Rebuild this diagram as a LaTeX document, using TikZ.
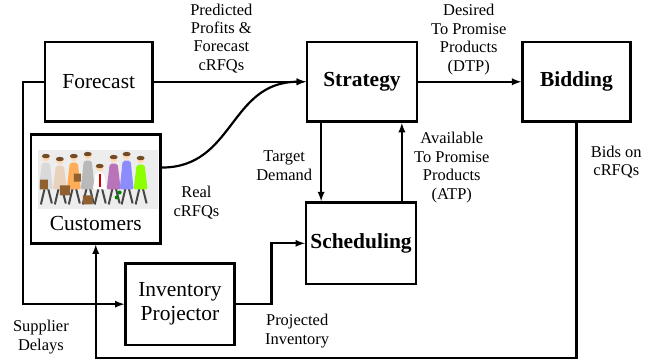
\documentclass[tikz,border=0pt]{standalone}
\usepackage{fontspec}
\setmainfont{Liberation Serif}
\usepackage{tikz}

\begin{document}
\begin{tikzpicture}[>=latex,x=1pt,y=-1pt,line width=2.2pt,
  box/.style={draw,line width=2.5pt,minimum width=108pt,minimum height=80pt,inner sep=1pt,align=center,font=\fontsize{21.5}{24}\selectfont},
  lbl/.style={align=center,font=\fontsize{16.5}{18.5}\selectfont}]
        \path[fill=white](0,0)rectangle(645,364);
        \node[box](fore)at(99,82){Forecast};
        \node[box,minimum width=110pt](strat)at(363,82){\textbf{Strategy}};
        \node[box](bid)at(578,82){\textbf{Bidding}};
        \node[box,minimum width=130pt,minimum height=109pt](cust)at(96,189.5){};
        \node[box,minimum width=110pt,minimum height=82pt](sched)at(362,244){\textbf{Scheduling}};
        \node[box,minimum width=109pt,minimum height=82pt](inv)at(180.5,305){Inventory\\Projector};
        \node[font=\fontsize{21.5}{24}\selectfont](custname)at(96,224){Customers};
        \fill[gray!14](38,150)rectangle(158,210);
        \foreach \px/\py/\coat in{46/158/gray!30,60/161/brown!35,74/158/orange!65,88/156/gray!55,100/168/white,114/159/violet!55,127/156/blue!45,141/160/green!45!yellow}{
        \draw[gray!55!black,line width=2pt](\px-1,188)--(\px-5,205) (\px+2,188)--(\px+6,204);
        \fill[\coat,rounded corners=2pt](\px-4,\py+5)--(\px+4,\py+5)--(\px+7,190)--(\px-7,190)--cycle;
        \fill[orange!30](\px,\py)circle(3.8);
        \fill[brown!60!black](\px,\py-1.5)ellipse(4 and 2.2);
        }
        \fill[brown!75!black](40,180)rectangle(48,190) (60,186)rectangle(70,196) (74,174)rectangle(81,182) (83,196)rectangle(93,205);
        \fill[red!80!black](99.5,174)rectangle(101.5,188);
        \fill[green!50!black](117,198)circle(2) (120,193)circle(2);
        \draw[->](fore)--(strat);
        \draw[->](cust.east|-0,168)..controls(235,168)and(230,82)..(strat.west);
        \draw[->](fore.west)--++(-21,0)|-(inv.west);
        \draw[->](inv.east)--++(36,0)|-(sched.west);
        \draw[->]([xshift=-41pt]strat.south)--([xshift=-41pt]strat.south|-sched.north);
        \draw[->]([xshift=41pt]sched.north)--([xshift=41pt]sched.north|-strat.south);
        \draw[->](strat)--(bid);
        \draw[->](bid.south)--++(0,236)-|(cust.south);
        \node[lbl](profits)at(222,38.5){Predicted\\Profits \&\\Forecast\\cRFQs};
        \node[lbl](dtp)at(470,39.5){Desired\\To Promise\\Products\\(DTP)};
        \node[lbl](target)at(285,166){Target\\Demand};
        \node[lbl](atp)at(453,168){Available\\To Promise\\Products\\(ATP)};
        \node[lbl](bids)at(618,162.5){Bids on\\cRFQs};
        \node[lbl](real)at(197,203){Real\\cRFQs};
        \node[lbl](delays)at(41,338){Supplier\\Delays};
        \node[lbl](projected)at(298,332){Projected\\Inventory};
    \end{tikzpicture}
\end{document}
